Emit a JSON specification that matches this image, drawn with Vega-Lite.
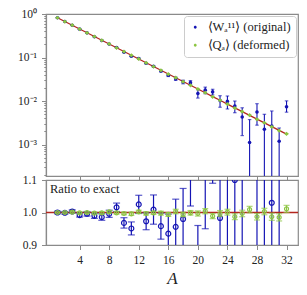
{
  "$schema": "https://vega.github.io/schema/vega-lite/v6.json",
  "padding": {"left": 16, "top": 7, "right": 8, "bottom": 8},
  "bounds": "flush",
  "spacing": 4,
  "config": {
    "font": "Liberation Serif",
    "view": {"stroke": "#8a8a8a", "strokeWidth": 1.2},
    "axis": {"domainColor": "#8a8a8a", "domainWidth": 1.2, "tickColor": "#8a8a8a", "tickWidth": 1, "labelColor": "#222222", "labelFont": "Liberation Serif", "labelFontSize": 11.5, "grid": false, "labelPadding": 5, "labelFlush": false}
  },
  "data": {"values": [
    {"A":1,"exact":0.82,"orig":0.82,"orig_lo":0.8167,"orig_hi":0.8233,"def":0.82,"def_lo":0.8184,"def_hi":0.8216,"r_orig":1.0,"r_orig_lo":0.996,"r_orig_hi":1.004,"r_def":1.0,"r_def_lo":0.998,"r_def_hi":1.002},
    {"A":2,"exact":0.6724,"orig":0.6717,"orig_lo":0.669,"orig_hi":0.6744,"def":0.6724,"def_lo":0.6711,"def_hi":0.6737,"r_orig":0.999,"r_orig_lo":0.995,"r_orig_hi":1.003,"r_def":1.0,"r_def_lo":0.998,"r_def_hi":1.002},
    {"A":3,"exact":0.5514,"orig":0.5531,"orig_lo":0.5503,"orig_hi":0.5558,"def":0.552,"def_lo":0.5503,"def_hi":0.5536,"r_orig":1.003,"r_orig_lo":0.998,"r_orig_hi":1.008,"r_def":1.001,"r_def_lo":0.998,"r_def_hi":1.004},
    {"A":4,"exact":0.4521,"orig":0.4485,"orig_lo":0.4458,"orig_hi":0.4512,"def":0.4516,"def_lo":0.4503,"def_hi":0.453,"r_orig":0.992,"r_orig_lo":0.986,"r_orig_hi":0.998,"r_def":0.999,"r_def_lo":0.996,"r_def_hi":1.002},
    {"A":5,"exact":0.3707,"orig":0.3692,"orig_lo":0.3666,"orig_hi":0.3718,"def":0.3707,"def_lo":0.3696,"def_hi":0.3718,"r_orig":0.996,"r_orig_lo":0.989,"r_orig_hi":1.003,"r_def":1.0,"r_def_lo":0.997,"r_def_hi":1.003},
    {"A":6,"exact":0.304,"orig":0.301,"orig_lo":0.2985,"orig_hi":0.3034,"def":0.3034,"def_lo":0.3025,"def_hi":0.3043,"r_orig":0.99,"r_orig_lo":0.982,"r_orig_hi":0.998,"r_def":0.998,"r_def_lo":0.995,"r_def_hi":1.001},
    {"A":7,"exact":0.2493,"orig":0.2458,"orig_lo":0.2433,"orig_hi":0.2483,"def":0.2491,"def_lo":0.2481,"def_hi":0.25,"r_orig":0.986,"r_orig_lo":0.976,"r_orig_hi":0.996,"r_def":0.999,"r_def_lo":0.995,"r_def_hi":1.003},
    {"A":8,"exact":0.2044,"orig":0.2036,"orig_lo":0.2013,"orig_hi":0.2058,"def":0.2048,"def_lo":0.204,"def_hi":0.2056,"r_orig":0.996,"r_orig_lo":0.985,"r_orig_hi":1.007,"r_def":1.002,"r_def_lo":0.998,"r_def_hi":1.006},
    {"A":9,"exact":0.1676,"orig":0.1703,"orig_lo":0.1681,"orig_hi":0.1725,"def":0.1674,"def_lo":0.1668,"def_hi":0.1681,"r_orig":1.016,"r_orig_lo":1.003,"r_orig_hi":1.029,"r_def":0.999,"r_def_lo":0.995,"r_def_hi":1.003},
    {"A":10,"exact":0.1374,"orig":0.133,"orig_lo":0.1308,"orig_hi":0.1352,"def":0.137,"def_lo":0.1364,"def_hi":0.1375,"r_orig":0.968,"r_orig_lo":0.952,"r_orig_hi":0.984,"r_def":0.997,"r_def_lo":0.993,"r_def_hi":1.001},
    {"A":11,"exact":0.1127,"orig":0.1072,"orig_lo":0.1049,"orig_hi":0.1094,"def":0.1122,"def_lo":0.1117,"def_hi":0.1128,"r_orig":0.951,"r_orig_lo":0.931,"r_orig_hi":0.971,"r_def":0.996,"r_def_lo":0.991,"r_def_hi":1.001},
    {"A":12,"exact":0.09242,"orig":0.09473,"orig_lo":0.09214,"orig_hi":0.09732,"def":0.0926,"def_lo":0.09214,"def_hi":0.09307,"r_orig":1.025,"r_orig_lo":0.997,"r_orig_hi":1.053,"r_def":1.002,"r_def_lo":0.997,"r_def_hi":1.007},
    {"A":13,"exact":0.07578,"orig":0.07373,"orig_lo":0.07176,"orig_hi":0.0757,"def":0.07555,"def_lo":0.07517,"def_hi":0.07593,"r_orig":0.973,"r_orig_lo":0.947,"r_orig_hi":0.999,"r_def":0.997,"r_def_lo":0.992,"r_def_hi":1.002},
    {"A":14,"exact":0.06214,"orig":0.0627,"orig_lo":0.0599,"orig_hi":0.0655,"def":0.06208,"def_lo":0.06177,"def_hi":0.06239,"r_orig":1.009,"r_orig_lo":0.964,"r_orig_hi":1.054,"r_def":0.999,"r_def_lo":0.994,"r_def_hi":1.004},
    {"A":15,"exact":0.05096,"orig":0.04882,"orig_lo":0.04678,"orig_hi":0.05086,"def":0.05086,"def_lo":0.05055,"def_hi":0.05116,"r_orig":0.958,"r_orig_lo":0.918,"r_orig_hi":0.998,"r_def":0.998,"r_def_lo":0.992,"r_def_hi":1.004},
    {"A":16,"exact":0.04179,"orig":0.03907,"orig_lo":0.03657,"orig_hi":0.04158,"def":0.04154,"def_lo":0.04129,"def_hi":0.04179,"r_orig":0.935,"r_orig_lo":0.875,"r_orig_hi":0.995,"r_def":0.994,"r_def_lo":0.988,"r_def_hi":1.0},
    {"A":17,"exact":0.03426,"orig":0.03275,"orig_lo":0.02984,"orig_hi":0.03566,"def":0.03436,"def_lo":0.03412,"def_hi":0.0346,"r_orig":0.956,"r_orig_lo":0.871,"r_orig_hi":1.041,"r_def":1.003,"r_def_lo":0.996,"r_def_hi":1.01},
    {"A":18,"exact":0.0281,"orig":0.02754,"orig_lo":0.0249,"orig_hi":0.03018,"def":0.02793,"def_lo":0.02774,"def_hi":0.02813,"r_orig":0.98,"r_orig_lo":0.886,"r_orig_hi":1.074,"r_def":0.994,"r_def_lo":0.987,"r_def_hi":1.001},
    {"A":19,"exact":0.02304,"orig":0.0265,"orig_lo":0.0235,"orig_hi":0.02949,"def":0.02302,"def_lo":0.02286,"def_hi":0.02318,"r_orig":1.15,"r_orig_lo":1.02,"r_orig_hi":1.28,"r_def":0.999,"r_def_lo":0.992,"r_def_hi":1.006},
    {"A":20,"exact":0.01889,"orig":0.01492,"orig_lo":0.01171,"orig_hi":0.01813,"def":0.01883,"def_lo":0.01868,"def_hi":0.01898,"r_orig":0.79,"r_orig_lo":0.62,"r_orig_hi":0.96,"r_def":0.997,"r_def_lo":0.989,"r_def_hi":1.005},
    {"A":21,"exact":0.01549,"orig":0.01781,"orig_lo":0.01472,"orig_hi":0.02091,"def":0.01555,"def_lo":0.01543,"def_hi":0.01568,"r_orig":1.15,"r_orig_lo":0.95,"r_orig_hi":1.35,"r_def":1.004,"r_def_lo":0.996,"r_def_hi":1.012},
    {"A":22,"exact":0.0127,"orig":0.01626,"orig_lo":0.01384,"orig_hi":0.01867,"def":0.01256,"def_lo":0.01246,"def_hi":0.01266,"r_orig":1.28,"r_orig_lo":1.09,"r_orig_hi":1.47,"r_def":0.989,"r_def_lo":0.981,"r_def_hi":0.997},
    {"A":23,"exact":0.01042,"orig":0.01024,"orig_lo":0.007221,"orig_hi":0.01326,"def":0.01039,"def_lo":0.01029,"def_hi":0.01048,"r_orig":0.983,"r_orig_lo":0.693,"r_orig_hi":1.273,"r_def":0.997,"r_def_lo":0.988,"r_def_hi":1.006},
    {"A":24,"exact":0.008541,"orig":0.009822,"orig_lo":0.006577,"orig_hi":0.01307,"def":0.00855,"def_lo":0.008473,"def_hi":0.008626,"r_orig":1.15,"r_orig_lo":0.77,"r_orig_hi":1.53,"r_def":1.001,"r_def_lo":0.992,"r_def_hi":1.01},
    {"A":25,"exact":0.007004,"orig":0.007704,"orig_lo":0.005393,"orig_hi":0.01002,"def":0.006913,"def_lo":0.00685,"def_hi":0.006976,"r_orig":1.1,"r_orig_lo":0.77,"r_orig_hi":1.43,"r_def":0.987,"r_def_lo":0.978,"r_def_hi":0.996},
    {"A":26,"exact":0.005743,"orig":0.004307,"orig_lo":0.001608,"orig_hi":0.007006,"def":0.005726,"def_lo":0.005668,"def_hi":0.005783,"r_orig":0.75,"r_orig_lo":0.28,"r_orig_hi":1.22,"r_def":0.997,"r_def_lo":0.987,"r_def_hi":1.007},
    {"A":27,"exact":0.004709,"orig":0.001116,"orig_lo":0.000001,"orig_hi":0.003753,"def":0.004751,"def_lo":0.004704,"def_hi":0.004798,"r_orig":0.237,"r_orig_lo":-0.323,"r_orig_hi":0.797,"r_def":1.009,"r_def_lo":0.999,"r_def_hi":1.019},
    {"A":28,"exact":0.003862,"orig":0.0056,"orig_lo":0.0028,"orig_hi":0.0087,"def":0.003812,"def_lo":0.003773,"def_hi":0.00385,"r_orig":1.45,"r_orig_lo":0.725,"r_orig_hi":2.253,"r_def":0.987,"r_def_lo":0.977,"r_def_hi":0.997},
    {"A":29,"exact":0.003167,"orig":0.002249,"orig_lo":0.000001,"orig_hi":0.004972,"def":0.003177,"def_lo":0.003145,"def_hi":0.003208,"r_orig":0.71,"r_orig_lo":-0.15,"r_orig_hi":1.57,"r_def":1.003,"r_def_lo":0.993,"r_def_hi":1.013},
    {"A":30,"exact":0.002597,"orig":0.002675,"orig_lo":0.000001,"orig_hi":0.005921,"def":0.002563,"def_lo":0.002535,"def_hi":0.002592,"r_orig":1.03,"r_orig_lo":-0.22,"r_orig_hi":2.28,"r_def":0.987,"r_def_lo":0.976,"r_def_hi":0.998},
    {"A":31,"exact":0.002129,"orig":0.001192,"orig_lo":0.000001,"orig_hi":0.002406,"def":0.002097,"def_lo":0.002074,"def_hi":0.00212,"r_orig":0.56,"r_orig_lo":-0.01,"r_orig_hi":1.13,"r_def":0.985,"r_def_lo":0.974,"r_def_hi":0.996},
    {"A":32,"exact":0.001746,"orig":0.00736,"orig_lo":0.00556,"orig_hi":0.0101,"def":0.001765,"def_lo":0.001746,"def_hi":0.001784,"r_orig":4.215,"r_orig_lo":3.184,"r_orig_hi":5.785,"r_def":1.011,"r_def_lo":1.0,"r_def_hi":1.022}
  ]},
  "resolve": {"scale": {"color": "independent"}, "legend": {"color": "independent"}},
  "vconcat": [
    {
      "width": 252,
      "height": 162,
      "encoding": {
        "x": {"field": "A", "type": "quantitative", "scale": {"domain": [-0.55, 33.55], "nice": false, "zero": false},
              "axis": {"values": [4, 8, 12, 16, 20, 24, 28, 32], "labels": false, "title": null, "tickSize": 4}}
      },
      "layer": [
        {
          "mark": {"type": "line", "color": "#b3261e", "strokeWidth": 1.3, "clip": true},
          "encoding": {
            "y": {"field": "exact", "type": "quantitative",
                  "scale": {"type": "log", "domain": [0.00019, 1], "nice": false},
                  "axis": {"title": null,
                           "values": [0.0002,0.0003,0.0004,0.0005,0.0006,0.0007,0.0008,0.0009,0.001,0.002,0.003,0.004,0.005,0.006,0.007,0.008,0.009,0.01,0.02,0.03,0.04,0.05,0.06,0.07,0.08,0.09,0.1,0.2,0.3,0.4,0.5,0.6,0.7,0.8,0.9,1],
                           "labelExpr": "datum.value == 1 ? '10⁰' : datum.value == 0.1 ? '10⁻¹' : datum.value == 0.01 ? '10⁻²' : datum.value == 0.001 ? '10⁻³' : ''",
                           "tickSize": {"condition": {"test": "indexof([1, 0.1, 0.01, 0.001], datum.value) >= 0", "value": 4.5}, "value": 2.2},
                           "labelOverlap": false, "labelPadding": 5}}
          }
        },
        {"mark": {"type": "rule", "color": "#1414b4", "strokeWidth": 1.1, "clip": true},
         "encoding": {"y": {"field": "orig_lo", "type": "quantitative"}, "y2": {"field": "orig_hi"}}},
        {"mark": {"type": "tick", "orient": "horizontal", "color": "#1414b4", "size": 3.5, "thickness": 1.1, "clip": true},
         "encoding": {"y": {"field": "orig_lo", "type": "quantitative"}}},
        {"mark": {"type": "tick", "orient": "horizontal", "color": "#1414b4", "size": 3.5, "thickness": 1.1, "clip": true},
         "encoding": {"y": {"field": "orig_hi", "type": "quantitative"}}},
        {"mark": {"type": "point", "shape": "circle", "filled": true, "size": 13, "opacity": 1, "clip": true},
         "encoding": {"y": {"field": "orig", "type": "quantitative"},
                      "color": {"datum": "⟨Wₐ¹¹⟩ (original)", "type": "nominal",
                                "scale": {"domain": ["⟨Wₐ¹¹⟩ (original)", "⟨Qₐ⟩ (deformed)"], "range": ["#1414b4", "#8cc541"]},
                                "legend": {"title": null, "orient": "top-right", "offset": 2, "padding": 5,
                                           "strokeColor": "#cccccc", "fillColor": "#ffffff", "cornerRadius": 3,
                                           "labelFont": "Liberation Serif", "labelFontSize": 12.5, "labelColor": "#222222",
                                           "symbolType": "M0,-1V1M-0.35,-1H0.35M-0.35,1H0.35M-0.3,0A0.3,0.3,0,1,0,0.3,0A0.3,0.3,0,1,0,-0.3,0Z",
                                           "symbolSize": 90, "symbolStrokeWidth": 1.2, "rowPadding": 5, "labelOffset": 6,
                                           "encode": {"symbols": {"update": {"stroke": {"scale": "color", "field": "value"}}}}}}}},
        {"mark": {"type": "rule", "color": "#8cc541", "strokeWidth": 1.1, "clip": true},
         "encoding": {"y": {"field": "def_lo", "type": "quantitative"}, "y2": {"field": "def_hi"}}},
        {"mark": {"type": "tick", "orient": "horizontal", "color": "#8cc541", "size": 3.5, "thickness": 1.1, "clip": true},
         "encoding": {"y": {"field": "def_lo", "type": "quantitative"}}},
        {"mark": {"type": "tick", "orient": "horizontal", "color": "#8cc541", "size": 3.5, "thickness": 1.1, "clip": true},
         "encoding": {"y": {"field": "def_hi", "type": "quantitative"}}},
        {"mark": {"type": "point", "shape": "diamond", "filled": true, "size": 18, "opacity": 1, "clip": true},
         "encoding": {"y": {"field": "def", "type": "quantitative"},
                      "color": {"datum": "⟨Qₐ⟩ (deformed)", "type": "nominal"}}}
      ]
    },
    {
      "width": 252,
      "height": 65,
      "title": {"text": "Ratio to exact", "anchor": "start", "orient": "top", "frame": "group", "offset": -21, "dx": 4,
                "font": "Liberation Serif", "fontSize": 12.5, "fontWeight": "normal", "color": "#222222"},
      "encoding": {
        "x": {"field": "A", "type": "quantitative", "scale": {"domain": [-0.55, 33.55], "nice": false, "zero": false},
              "axis": {"values": [4, 8, 12, 16, 20, 24, 28, 32], "title": "A", "titleFont": "Liberation Serif", "titleFontStyle": "italic",
                       "titleFontWeight": "normal", "titleFontSize": 17, "titleColor": "#222222", "tickSize": 4.5, "titlePadding": 4}}
      },
      "layer": [
        {"mark": {"type": "rule", "color": "#1414b4", "strokeWidth": 1.2, "clip": true},
         "encoding": {"y": {"field": "r_orig_lo", "type": "quantitative",
                            "scale": {"domain": [0.9, 1.1], "nice": false, "zero": false},
                            "axis": {"title": null, "tickCount": 2, "format": ".1f", "tickSize": 4.5, "labelOverlap": false}},
                      "y2": {"field": "r_orig_hi"}}},
        {"data": {"values": [{"ref": 1}]},
         "mark": {"type": "rule", "color": "#b3261e", "strokeWidth": 1.3},
         "encoding": {"y": {"field": "ref", "type": "quantitative"}, "x": null}},
        {"mark": {"type": "tick", "orient": "horizontal", "color": "#1414b4", "size": 7, "thickness": 1.2, "clip": true},
         "encoding": {"y": {"field": "r_orig_lo", "type": "quantitative"}}},
        {"mark": {"type": "tick", "orient": "horizontal", "color": "#1414b4", "size": 7, "thickness": 1.2, "clip": true},
         "encoding": {"y": {"field": "r_orig_hi", "type": "quantitative"}}},
        {"mark": {"type": "point", "shape": "circle", "filled": false, "size": 24, "strokeWidth": 1.2, "color": "#1414b4", "opacity": 1, "clip": true},
         "encoding": {"y": {"field": "r_orig", "type": "quantitative"}}},
        {"mark": {"type": "rule", "color": "#8cc541", "strokeWidth": 1.2, "clip": true},
         "encoding": {"y": {"field": "r_def_lo", "type": "quantitative"}, "y2": {"field": "r_def_hi"}}},
        {"mark": {"type": "tick", "orient": "horizontal", "color": "#8cc541", "size": 6, "thickness": 1.2, "clip": true},
         "encoding": {"y": {"field": "r_def_lo", "type": "quantitative"}}},
        {"mark": {"type": "tick", "orient": "horizontal", "color": "#8cc541", "size": 6, "thickness": 1.2, "clip": true},
         "encoding": {"y": {"field": "r_def_hi", "type": "quantitative"}}},
        {"mark": {"type": "point", "shape": "circle", "filled": false, "size": 16, "strokeWidth": 1.2, "color": "#8cc541", "opacity": 1, "clip": true},
         "encoding": {"y": {"field": "r_def", "type": "quantitative"}}}
      ]
    }
  ]
}
